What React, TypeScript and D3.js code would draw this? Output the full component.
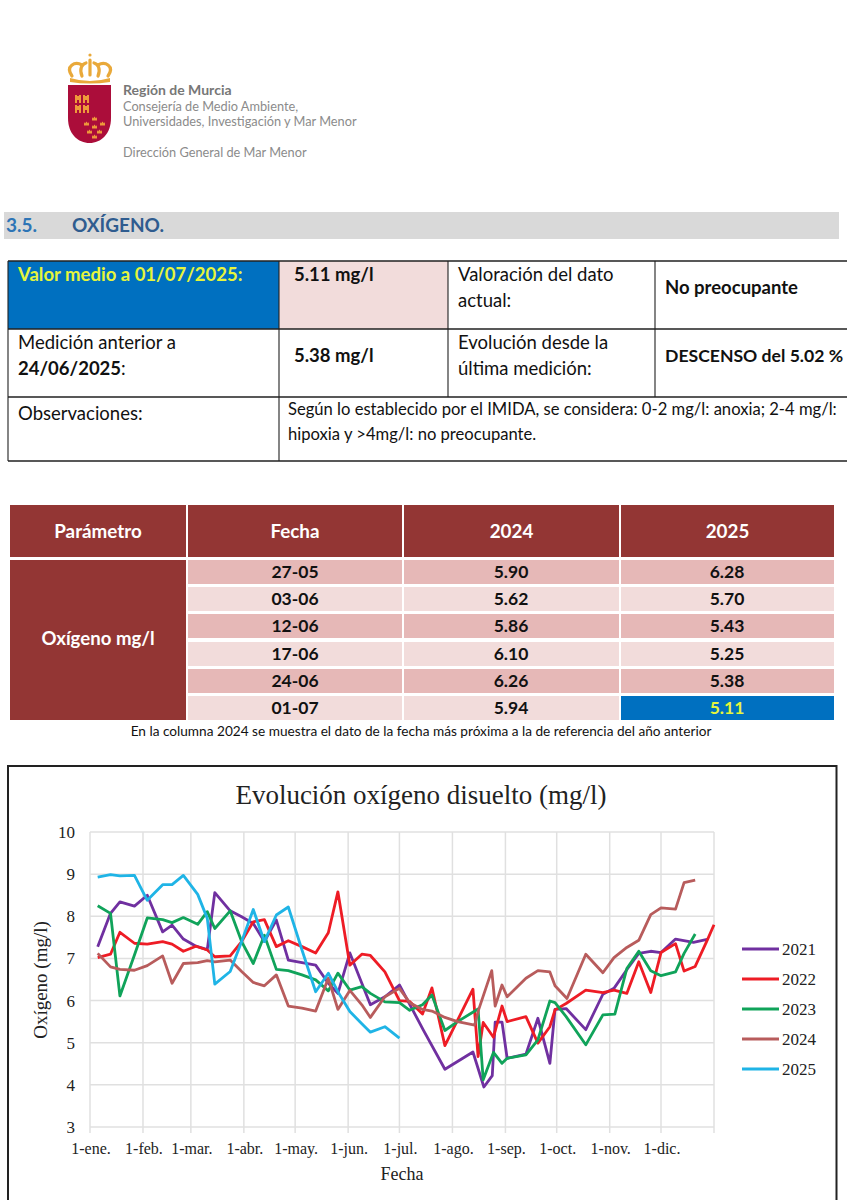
import React from "react";
import * as d3 from "d3";

const monthLabels = ["1-ene.", "1-feb.", "1-mar.", "1-abr.", "1-may.", "1-jun.", "1-jul.", "1-ago.", "1-sep.", "1-oct.", "1-nov.", "1-dic."];
const monthDays = [0, 31, 59, 90, 120, 151, 181, 212, 243, 273, 304, 334];
const yTicks = [3, 4, 5, 6, 7, 8, 9, 10];

// [day of year, mg/l]
const s2021: [number, number][] = [[4.5, 7.28], [12, 8.07], [17.5, 8.34], [26, 8.24], [33.5, 8.5], [42.5, 7.63], [48, 7.79], [54.6, 7.46], [62, 7.29], [68.6, 7.21], [73, 8.56], [82, 8.13], [88.7, 7.99], [95.5, 7.83], [102, 7.4], [109, 7.91], [116, 6.96], [124, 6.9], [132, 6.84], [139.4, 6.41], [145, 6.17], [152, 7.13], [159, 6.41], [164, 5.9], [172.5, 6.09], [181, 6.37], [195, 5.3], [207.6, 4.37], [224, 4.78], [230.4, 3.95], [235.3, 4.22], [237, 5.49], [241, 5.49], [244, 4.63], [255, 4.73], [262, 5.58], [269, 4.51], [272, 5.79], [278.5, 5.81], [290, 5.31], [300, 6.15], [306.5, 6.29], [314.5, 6.76], [321, 7.12], [328, 7.17], [334, 7.14], [342.5, 7.46], [353, 7.38], [361, 7.45]];
const s2022: [number, number][] = [[4.5, 7.02], [12, 7.1], [17.5, 7.62], [26, 7.36], [33.5, 7.34], [42.5, 7.4], [48, 7.34], [54.6, 7.17], [62, 7.29], [68.6, 7.2], [73, 7.04], [82, 7.06], [88.7, 7.4], [95.5, 7.87], [102, 7.92], [109, 7.28], [116, 7.42], [124, 7.28], [132, 7.13], [139.4, 7.61], [145, 8.58], [152, 6.84], [159, 7.1], [164, 7.07], [172.5, 6.68], [181, 6.0], [187, 5.98], [194.5, 5.68], [200, 6.3], [207.6, 4.93], [224, 6.27], [227, 4.67], [230, 5.48], [236, 5.13], [241, 5.87], [244, 5.5], [255, 5.62], [262, 4.99], [269, 5.38], [272, 5.78], [278.5, 5.93], [290, 6.25], [300, 6.19], [306.5, 6.25], [314, 6.17], [321, 6.92], [328, 6.19], [334, 7.14], [342.5, 7.35], [347.5, 6.7], [354, 6.81], [361, 7.43], [365, 7.8]];
const s2023: [number, number][] = [[4.5, 8.25], [12, 8.07], [17.5, 6.11], [26, 7.08], [33.5, 7.96], [42.5, 7.92], [48, 7.85], [54.6, 7.97], [63, 7.81], [68.6, 8.11], [73, 7.71], [82, 8.13], [88.7, 7.4], [95.5, 6.88], [102, 7.55], [109, 6.74], [116, 6.71], [124, 6.61], [132, 6.49], [139.4, 6.23], [145, 6.65], [152, 6.25], [159, 6.33], [164, 6.17], [172.5, 5.97], [181, 5.95], [187, 5.77], [194.5, 5.9], [200, 6.13], [207.6, 5.29], [215, 5.5], [227, 5.8], [230, 4.12], [236, 4.77], [241, 4.51], [244, 4.63], [255, 4.71], [262, 5.07], [269, 5.99], [272, 5.95], [278.5, 5.62], [290, 4.95], [300, 5.66], [307, 5.68], [314, 6.76], [321, 7.17], [328, 6.71], [334, 6.59], [342.5, 6.68], [347.5, 7.12], [354, 7.58]];
const s2024: [number, number][] = [[4.5, 7.12], [12, 6.8], [17.5, 6.74], [26, 6.72], [33.5, 6.83], [42.5, 7.06], [48, 6.41], [54.6, 6.88], [63, 6.9], [68.6, 6.95], [73, 6.92], [82, 6.96], [88.7, 6.69], [95.5, 6.43], [102, 6.35], [109, 6.61], [116, 5.87], [124, 5.82], [132, 5.75], [139.4, 6.53], [145, 5.79], [152, 6.24], [159, 5.9], [164, 5.6], [172.5, 6.09], [181, 6.29], [187, 5.95], [194.5, 5.79], [200, 5.75], [207.6, 5.6], [215, 5.5], [225, 5.42], [227.3, 5.78], [235, 6.71], [237, 5.87], [241, 6.37], [244, 6.09], [255, 6.53], [262, 6.71], [269, 6.68], [272, 6.35], [279, 6.05], [290, 7.1], [300, 6.66], [306.5, 7.02], [314, 7.26], [321, 7.43], [328, 8.04], [334, 8.2], [342.5, 8.17], [347.5, 8.8], [354, 8.86]];
const s2025: [number, number][] = [[4.5, 8.93], [12, 8.99], [17.5, 8.96], [26, 8.97], [33.5, 8.38], [42.5, 8.75], [48, 8.75], [54.6, 8.97], [63, 8.52], [68.6, 7.95], [73, 6.39], [82, 6.69], [88.7, 7.4], [95.5, 8.16], [102, 7.4], [109, 8.03], [116, 8.22], [124, 7.2], [132, 6.21], [139.4, 6.65], [145, 6.21], [152, 5.74], [159, 5.45], [164, 5.25], [172.5, 5.38], [181, 5.11]];

const seriesNames = ["2021", "2022", "2023", "2024", "2025"];
const seriesValues = [s2021, s2022, s2023, s2024, s2025];
const seriesColors = ["#7030a0", "#ee1c25", "#10a35a", "#b85c5c", "#1fb4e6"];

const tableHead = ["Parámetro", "Fecha", "2024", "2025"];
const tableDates = ["27-05", "03-06", "12-06", "17-06", "24-06", "01-07"];
const table2024 = ["5.90", "5.62", "5.86", "6.10", "6.26", "5.94"];
const table2025 = ["6.28", "5.70", "5.43", "5.25", "5.38", "5.11"];

const sans = "Lato, 'Open Sans', sans-serif";
const serif = "'Liberation Serif', serif";
const wine = "#933634";

const x = d3.scaleLinear().domain([0, 365]).range([90, 714]);
const y = d3.scaleLinear().domain([3, 10]).range([1127, 832]);
const line = d3
  .line<[number, number]>()
  .x((d) => x(d[0]))
  .y((d) => y(d[1]));

function Logo() {
  const gold = "#e9a93a";
  const castles = [[75, 95], [83, 95], [75, 105], [83, 105]];
  const crowns = [[92, 117], [84, 122], [100, 122], [92, 125], [87, 130], [97, 130], [92, 135]];
  return (
    <g>
      <g fill="none" stroke={gold} strokeWidth="3.2" strokeLinecap="round">
        <path d="M72 76 C65 66 75 61 82 65" />
        <path d="M108 76 C115 66 105 61 98 65" />
        <path d="M82 76 C79 69 82 64 86 63" />
        <path d="M98 76 C101 69 98 64 94 63" />
        <path d="M90 60 L90 75" />
      </g>
      <path d="M70 78 Q90 84 110 78 L110 82 Q90 85 70 82 Z" fill={gold} />
      <circle cx="90" cy="55" r="1.6" fill={gold} />
      <path d="M68 85 H111 V118 C111 134 101 143 89.5 143 C78 143 68 134 68 118 Z" fill="#ab0d3a" />
      <g fill="#ee9a3a">
        {castles.map(([cx, cy]) => (
          <path key={`${cx}-${cy}`} d={`M${cx} ${cy}h2v1h2v-1h2v8h-2v-3h-2v3h-2z`} />
        ))}
        {crowns.map(([cx, cy]) => (
          <path key={`${cx}-${cy}`} d={`M${cx} ${cy}l1 1.5l1.5-2l1.5 2l1-1.5v3.5h-5z`} />
        ))}
      </g>
    </g>
  );
}

function InfoTable() {
  return (
    <g fontFamily={sans} fontSize="18.5" fill="#111">
      <rect x="8" y="261" width="271" height="68" fill="#0070c0" />
      <rect x="279" y="261" width="169" height="68" fill="#f2dcdb" />
      <g stroke="#222" fill="none">
        <path d="M8 261 H847 M8 329 H847 M8 397 H847 M8 461 H847" strokeWidth="1.6" />
        <path d="M8 261 V461 M279 261 V461 M448 261 V397 M655 261 V397" strokeWidth="1.1" />
      </g>
      <text x="18" y="281" fontWeight="700" fill="#e6f53c">Valor medio a 01/07/2025:</text>
      <text x="294" y="281" fontWeight="700">5.11 mg/l</text>
      <text x="458" y="281">Valoración del dato</text>
      <text x="458" y="307">actual:</text>
      <text x="665" y="294" fontWeight="700">No preocupante</text>
      <text x="18" y="349">Medición anterior a</text>
      <text x="18" y="375"><tspan fontWeight="700">24/06/2025</tspan>:</text>
      <text x="294" y="362" fontWeight="700">5.38 mg/l</text>
      <text x="458" y="349">Evolución desde la</text>
      <text x="458" y="375">última medición:</text>
      <text x="665" y="362" fontWeight="700" fontSize="17.6">DESCENSO del 5.02 %</text>
      <text x="18" y="420">Observaciones:</text>
      <g fontSize="16.6">
        <text x="288" y="415">Según lo establecido por el IMIDA, se considera: 0-2 mg/l: anoxia; 2-4 mg/l:</text>
        <text x="288" y="440">hipoxia y &gt;4mg/l: no preocupante.</text>
      </g>
    </g>
  );
}

function DataTable() {
  const cols = [[10, 176], [188, 214], [404, 215], [621, 213]];
  const rowTops = [560, 587, 614, 642, 669, 696];
  const rowH = 24;
  return (
    <g fontFamily={sans} fontSize="17.5" fontWeight="700" textAnchor="middle">
      {cols.map(([cx, w], i) => (
        <g key={i}>
          <rect x={cx} y="505" width={w} height="52" fill={wine} />
          <text x={cx + w / 2} y="538" fill="#fff" fontSize="18.8">{tableHead[i]}</text>
        </g>
      ))}
      <rect x="10" y="560" width="176" height="160" fill={wine} />
      <text x="98" y="645" fill="#fff" fontSize="18.6">Oxígeno mg/l</text>
      {tableDates.map((date, i) => {
        const bg = i % 2 === 0 ? "#e6b8b7" : "#f2dcdb";
        const last = i === tableDates.length - 1;
        const ty = rowTops[i] + 18;
        return (
          <g key={date} fill="#111">
            <rect x={cols[1][0]} y={rowTops[i]} width={cols[1][1]} height={rowH} fill={bg} />
            <rect x={cols[2][0]} y={rowTops[i]} width={cols[2][1]} height={rowH} fill={bg} />
            <rect x={cols[3][0]} y={rowTops[i]} width={cols[3][1]} height={rowH} fill={last ? "#0070c0" : bg} />
            <text x={295} y={ty}>{date}</text>
            <text x={511} y={ty}>{table2024[i]}</text>
            <text x={727} y={ty} fill={last ? "#e6f53c" : "#111"}>{table2025[i]}</text>
          </g>
        );
      })}
      <text x="421" y="736" fontSize="13.65" fontWeight="400" fill="#111">
        En la columna 2024 se muestra el dato de la fecha más próxima a la de referencia del año anterior
      </text>
    </g>
  );
}

function Chart() {
  return (
    <g fontFamily={serif} fill="#222">
      <path d="M8 1200 V766 H836.5 V1200" fill="none" stroke="#222" strokeWidth="2" />
      <text x="421" y="804" textAnchor="middle" fontSize="27">Evolución oxígeno disuelto (mg/l)</text>
      {yTicks.map((t) => (
        <g key={t}>
          <line x1={x(0)} x2={x(365)} y1={y(t)} y2={y(t)} stroke="#e0e0e0" strokeWidth="1.5" />
          <text x="75" y={y(t) + 6} textAnchor="end" fontSize="17">{t}</text>
        </g>
      ))}
      {[...monthDays, 365].map((d) => (
        <line key={d} x1={x(d)} x2={x(d)} y1={y(10)} y2={y(3) + 6} stroke="#e0e0e0" strokeWidth="1.5" />
      ))}
      {monthLabels.map((m, i) => (
        <text key={m} x={x(monthDays[i]) + 1} y="1154" textAnchor="middle" fontSize="16">{m}</text>
      ))}
      <text x="402" y="1180" textAnchor="middle" fontSize="18">Fecha</text>
      <text transform="translate(47,980) rotate(-90)" textAnchor="middle" fontSize="19">Oxígeno (mg/l)</text>
      {seriesValues.map((s, i) => (
        <path key={seriesNames[i]} d={line(s) ?? ""} fill="none" stroke={seriesColors[i]} strokeWidth="2.8" strokeLinejoin="round" />
      ))}
      {seriesNames.map((name, i) => {
        const ly = 949 + i * 30;
        return (
          <g key={name}>
            <line x1="742" x2="779" y1={ly} y2={ly} stroke={seriesColors[i]} strokeWidth="2.8" />
            <text x="782" y={ly + 6} fontSize="17">{name}</text>
          </g>
        );
      })}
    </g>
  );
}

export default function App() {
  return (
    <svg
      width={847}
      height={1200}
      style={{ position: "absolute", left: 0, top: 0, background: "#fff" }}
    >
      <Logo />
      <g fontFamily={sans} fontSize="12.75" fill="#8b8b8b">
        <text x="123" y="95" fontWeight="700" fontSize="14" fill="#777">Región de Murcia</text>
        <text x="123" y="111">Consejería de Medio Ambiente,</text>
        <text x="123" y="126">Universidades, Investigación y Mar Menor</text>
        <text x="123" y="157">Dirección General de Mar Menor</text>
      </g>
      <rect x="4" y="212" width="835" height="27" fill="#d9d9d9" />
      <g fontFamily={sans} fontSize="19" fontWeight="700">
        <text x="6" y="232" fill="#2e75b6">3.5.</text>
        <text x="72" y="232" fill="#2f5c8f">OXÍGENO.</text>
      </g>
      <InfoTable />
      <DataTable />
      <Chart />
    </svg>
  );
}
